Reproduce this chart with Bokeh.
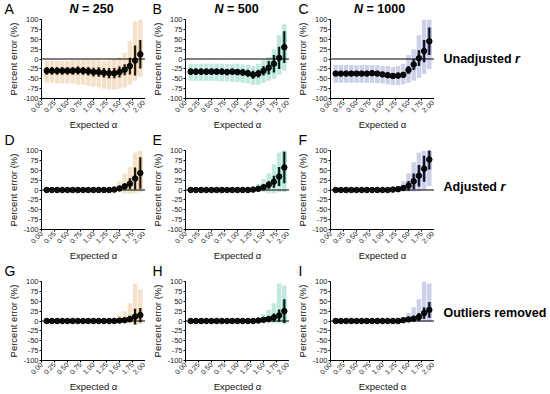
import math
from bokeh.plotting import figure
from bokeh.layouts import column, row
from bokeh.models import FixedTicker, Span
from bokeh.core.properties import value
from bokeh.embed import file_html
from bokeh.resources import INLINE

# ---------------- data ----------------
alpha_vals = [0.1, 0.2, 0.3, 0.4, 0.5, 0.6, 0.7, 0.8, 0.9, 1.0,
              1.1, 1.2, 1.3, 1.4, 1.5, 1.6, 1.7, 1.8, 1.9]

x_ticks = [0.0, 0.25, 0.5, 0.75, 1.0, 1.25, 1.5, 1.75, 2.0]
x_tick_labels = ["0.00", "0.25", "0.50", "0.75", "1.00", "1.25", "1.50", "1.75", "2.00"]
y_ticks = [-100, -75, -50, -25, 0, 25, 50, 75, 100]
y_tick_labels = ["-100", "-75", "-50", "-25", "0", "25", "50", "75", "100"]

sample_sizes = ["250", "500", "1000"]
row_labels = ["Unadjusted", "Adjusted", "Outliers removed"]
row_label_italic = ["r", "r", ""]
panel_letters = [["A", "B", "C"], ["D", "E", "F"], ["G", "H", "I"]]
col_colors = ["#D99A4E", "#2DB391", "#5563B4"]

# Unadjusted r
mean_A = [-30, -30, -30, -30, -30, -30, -29, -30, -31, -33, -33, -35, -36, -36, -33, -27, -18, -4, 12]
sd_A   = [10, 10, 10, 10, 10, 10, 10, 10, 11, 11, 12, 12, 13, 13, 14, 14, 21, 38, 36]
lo_A   = [-60, -60, -62, -62, -62, -62, -65, -65, -68, -70, -72, -75, -78, -78, -75, -72, -65, -55, -45]
hi_A   = [-5, -5, -5, -5, -5, -3, -3, -3, -3, -3, -3, -5, -3, 0, 5, 15, 45, 95, 100]

mean_B = [-32, -32, -32, -32, -32, -32, -32, -33, -32, -33, -34, -36, -40, -37, -30, -22, -12, 3, 30]
sd_B   = [8, 8, 8, 8, 8, 8, 8, 8, 8, 8, 9, 9, 10, 10, 12, 17, 22, 28, 40]
lo_B   = [-55, -55, -55, -55, -56, -56, -57, -57, -58, -58, -60, -62, -65, -65, -60, -55, -50, -40, -30]
hi_B   = [-12, -12, -12, -12, -12, -12, -12, -12, -12, -12, -14, -15, -18, -12, -3, 5, 25, 60, 88]

mean_C = [-37, -37, -37, -37, -37, -37, -37, -36, -37, -39, -41, -43, -42, -40, -28, -14, 2, 20, 45]
sd_C   = [6, 6, 6, 6, 6, 6, 6, 6, 6, 6, 6, 7, 7, 7, 10, 14, 20, 28, 35]
lo_C   = [-60, -60, -60, -60, -60, -60, -60, -60, -61, -62, -64, -66, -66, -64, -60, -55, -48, -38, -25]
hi_C   = [-15, -15, -15, -15, -15, -15, -15, -15, -16, -17, -18, -20, -18, -12, 10, 25, 60, 100, 100]

# Adjusted r
mean_D = [0, 0, 0, 0, 0, 0, 0, 0, 0, 0, 0, 0, 0, 1, 4, 9, 16, 29, 43]
sd_D   = [0, 0, 0, 0, 0, 0, 0, 0, 0, 0, 0, 0, 1, 2, 4, 8, 14, 28, 40]
lo_D   = [0, 0, 0, 0, 0, 0, 0, 0, 0, 0, 0, -1, -2, -4, -6, -8, -10, -8, -6]
hi_D   = [0, 0, 0, 0, 0, 0, 0, 0, 0, 0, 1, 2, 4, 10, 22, 42, 58, 95, 100]

mean_E = [0, 0, 0, 0, 0, 0, 0, 0, 0, 0, 0, 0, 1, 3, 7, 13, 21, 34, 57]
sd_E   = [0, 0, 0, 0, 0, 0, 0, 0, 0, 0, 0, 0, 1, 3, 6, 10, 15, 24, 40]
lo_E   = [0, 0, 0, 0, 0, 0, 0, 0, 0, 0, 0, -1, -2, -4, -6, -8, -8, -6, -5]
hi_E   = [0, 0, 0, 0, 0, 0, 0, 0, 0, 0, 1, 2, 5, 15, 28, 42, 65, 95, 100]

mean_F = [0, 0, 0, 0, 0, 0, 0, 0, 0, 0, 0, 1, 2, 5, 11, 22, 36, 54, 77]
sd_F   = [0, 0, 0, 0, 0, 0, 0, 0, 0, 0, 0, 1, 2, 5, 12, 20, 27, 33, 25]
lo_F   = [0, 0, 0, 0, 0, 0, 0, 0, 0, 0, 0, -1, -2, -3, -4, -4, -3, 0, 10]
hi_F   = [0, 0, 0, 0, 0, 0, 0, 0, 0, 0, 1, 3, 10, 22, 42, 70, 95, 100, 100]

# Outliers removed
mean_G = [0, 0, 0, 0, 0, 0, 0, 0, 0, 0, 0, 0, 0, 0, 1, 2, 5, 11, 15]
sd_G   = [0, 0, 0, 0, 0, 0, 0, 0, 0, 0, 0, 0, 0, 1, 2, 4, 8, 20, 18]
lo_G   = [0, 0, 0, 0, 0, 0, 0, 0, 0, 0, 0, 0, -1, -2, -4, -5, -6, -10, -8]
hi_G   = [0, 0, 0, 0, 0, 0, 0, 0, 0, 0, 1, 2, 3, 8, 15, 25, 45, 95, 80]

mean_H = [0, 0, 0, 0, 0, 0, 0, 0, 0, 0, 0, 0, 0, 1, 3, 5, 9, 14, 25]
sd_H   = [0, 0, 0, 0, 0, 0, 0, 0, 0, 0, 0, 0, 1, 2, 4, 6, 10, 15, 30]
lo_H   = [0, 0, 0, 0, 0, 0, 0, 0, 0, 0, 0, 0, -1, -2, -4, -5, -6, -6, -8]
hi_H   = [0, 0, 0, 0, 0, 0, 0, 0, 0, 0, 1, 2, 3, 8, 18, 28, 45, 95, 90]

mean_I = [0, 0, 0, 0, 0, 0, 0, 0, 0, 0, 0, 0, 0, 2, 4, 6, 10, 20, 28]
sd_I   = [0, 0, 0, 0, 0, 0, 0, 0, 0, 0, 0, 0, 1, 2, 3, 5, 10, 14, 20]
lo_I   = [0, 0, 0, 0, 0, 0, 0, 0, 0, 0, 0, 0, -1, -1, -2, -2, -2, -2, -2]
hi_I   = [0, 0, 0, 0, 0, 0, 0, 0, 0, 0, 1, 2, 5, 10, 20, 35, 55, 100, 95]

panels = [
    [(mean_A, sd_A, lo_A, hi_A), (mean_B, sd_B, lo_B, hi_B), (mean_C, sd_C, lo_C, hi_C)],
    [(mean_D, sd_D, lo_D, hi_D), (mean_E, sd_E, lo_E, hi_E), (mean_F, sd_F, lo_F, hi_F)],
    [(mean_G, sd_G, lo_G, hi_G), (mean_H, sd_H, lo_H, hi_H), (mean_I, sd_I, lo_I, hi_I)],
]

# ---------------- layout constants ----------------
FONT = "Liberation Sans"
TOTAL_W = 550
PANEL_H = 116
B_TOP = 3
B_BOT = 29
FRAME_W = 104
COL_BL = [41, 40, 41]          # left border of each panel figure
LABEL_COL_W = TOTAL_W - sum(b + FRAME_W for b in COL_BL)
STRIP_H = [16, 15, 15]
LETTER_X = [4, 152, 298]
LETTER_FS = "14px"
TITLE_CX = [91, 236, 379]
TITLE_N_GAP = 12.5             # "N" plus a space, bold 12.5px
TITLE_W = [44, 44, 51]
LABEL_Y = [-1, 8, 20]
LABEL_X = 9
LABEL_BOLD_W = [71.5, 57.0, 0.0]


def style_axis(ax, font_size):
    ax.axis_line_color = "black"
    ax.axis_line_width = 1
    ax.major_tick_line_color = "black"
    ax.major_tick_in = 0
    ax.major_tick_out = 2
    ax.minor_tick_line_color = None
    ax.major_label_text_font = FONT
    ax.major_label_text_font_size = font_size
    ax.major_label_text_color = "#222222"
    ax.major_label_standoff = 1
    ax.axis_label_text_font = FONT
    ax.axis_label_text_font_size = "9.5px"
    ax.axis_label_text_font_style = "normal"
    ax.axis_label_text_color = "#111111"
    ax.axis_label_standoff = 1


def make_panel(r, c):
    mean, sd, lo, hi = panels[r][c]
    color = col_colors[c]
    p = figure(width=COL_BL[c] + FRAME_W, height=PANEL_H, x_range=(0, 2), y_range=(-100, 100),
               output_backend="svg", toolbar_location=None,
               min_border_left=COL_BL[c], min_border_right=0,
               min_border_top=B_TOP, min_border_bottom=B_BOT)
    p.outline_line_color = None
    p.grid.visible = False

    err_lo = [m - s for m, s in zip(mean, sd)]
    err_hi = [m + s for m, s in zip(mean, sd)]

    p.vbar(x=alpha_vals, width=0.085, bottom=lo, top=hi,
           fill_color=color, fill_alpha=0.3, line_color=None)
    p.vbar(x=alpha_vals, width=0.085, bottom=err_lo, top=err_hi,
           fill_color=color, fill_alpha=0.4, line_color=None)

    p.add_layout(Span(location=0, dimension="width", line_color="black", line_width=1.2))

    p.segment(x0=alpha_vals, y0=err_lo, x1=alpha_vals, y1=err_hi,
              line_color="black", line_width=2, line_alpha=0.9)
    p.scatter(x=alpha_vals, y=mean, size=5.5, fill_color="black", line_color="black",
              fill_alpha=0.9)

    xa = p.xaxis[0]
    xa.ticker = FixedTicker(ticks=x_ticks)
    xa.major_label_overrides = {t: s for t, s in zip(x_ticks, x_tick_labels)}
    xa.major_label_orientation = math.pi / 4
    xa.axis_label = "Expected α"
    style_axis(xa, "7px")
    ya = p.yaxis[0]
    ya.ticker = FixedTicker(ticks=y_ticks)
    ya.major_label_overrides = {t: s for t, s in zip(y_ticks, y_tick_labels)}
    ya.axis_label = "Percent error (%)"
    style_axis(ya, "7.5px")
    return p


def make_strip(r):
    h = STRIP_H[r]
    p = figure(width=TOTAL_W, height=h, x_range=(0, TOTAL_W), y_range=(0, h),
               output_backend="svg", toolbar_location=None, min_border=0,
               x_axis_location=None, y_axis_location=None)
    p.outline_line_color = None
    p.grid.visible = False
    p.text(x=LETTER_X, y=[h / 2] * 3, text=panel_letters[r],
           text_font=value(FONT), text_font_size=LETTER_FS, text_color="black",
           text_align="left", text_baseline="middle")
    if r == 0:
        nx = [cx - w / 2 for cx, w in zip(TITLE_CX, TITLE_W)]
        p.text(x=nx, y=[h / 2] * 3, text=["N", "N", "N"],
               text_font=value(FONT), text_font_size="12.5px",
               text_font_style="bold italic", text_align="left", text_baseline="middle")
        p.text(x=[v + TITLE_N_GAP for v in nx], y=[h / 2] * 3,
               text=["= " + s for s in sample_sizes],
               text_font=value(FONT), text_font_size="12.5px",
               text_font_style="bold", text_align="left", text_baseline="middle")
    return p


def make_row_label(r):
    p = figure(width=LABEL_COL_W, height=PANEL_H, x_range=(0, LABEL_COL_W), y_range=(-100, 100),
               output_backend="svg", toolbar_location=None,
               min_border_left=0, min_border_right=0,
               min_border_top=B_TOP, min_border_bottom=B_BOT,
               x_axis_location=None, y_axis_location=None)
    p.outline_line_color = None
    p.grid.visible = False
    p.text(x=[LABEL_X], y=[LABEL_Y[r]], text=[row_labels[r]],
           text_font=value(FONT), text_font_size="12.5px", text_font_style="bold",
           text_align="left", text_baseline="middle")
    if row_label_italic[r]:
        p.text(x=[LABEL_X + LABEL_BOLD_W[r]], y=[LABEL_Y[r]], text=[row_label_italic[r]],
               text_font=value(FONT), text_font_size="12.5px", text_font_style="bold italic",
               text_align="left", text_baseline="middle")
    return p


items = []
for r in range(3):
    items.append(make_strip(r))
    items.append(row(*([make_panel(r, c) for c in range(3)] + [make_row_label(r)]), spacing=0))
layout = column(*items, spacing=0)

open("out.html", "w").write(file_html(layout, INLINE))
